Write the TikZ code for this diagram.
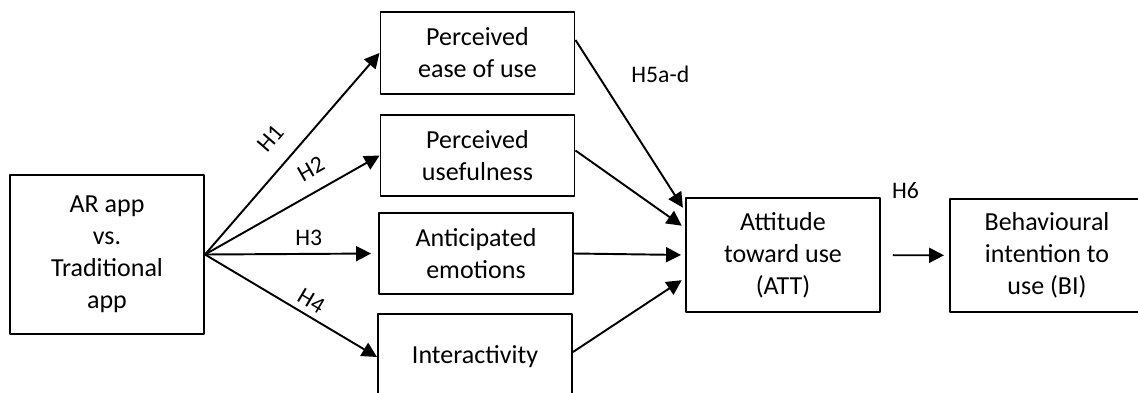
\documentclass[tikz,border=0pt]{standalone}
\usepackage{fontspec}
\setmainfont{Carlito}
\usetikzlibrary{arrows.meta}

\begin{document}
\begin{tikzpicture}[line join=round, >={Triangle[length=0.3cm,width=0.3cm]},
	box/.style={draw, line width=1.1pt, minimum width=3.88cm, inner sep=0pt, align=center, font=\fontsize{14.8}{18.2}\selectfont},
	hyp/.style={inner sep=2pt, font=\fontsize{13.5}{16}\selectfont},
	link/.style={->, line width=1.1pt}]
			\useasboundingbox (0,0) rectangle (22.76,7.84);
			% boxes
			\node[box, minimum height=3.18cm] (AR) at (2.14,2.75) {AR app\\vs.\\Traditional\\app};
			\node[box, minimum height=1.64cm] (ease) at (9.55,6.78) {Perceived\\ease of use};
			\node[box, minimum height=1.62cm] (useful) at (9.55,4.73) {Perceived\\usefulness};
			\node[box, minimum height=1.62cm] (antic) at (9.52,2.77) {Anticipated\\emotions};
			\node[box, minimum height=1.72cm] (inter) at (9.50,0.70) {Interactivity};
			\node[box, minimum height=2.28cm] (ATT) at (15.66,2.74) {Attitude\\toward use\\(ATT)};
			\node[box, minimum height=2.26cm] (BI) at (20.94,2.73) {Behavioural\\intention to\\use (BI)};
			% H1-H4
			\draw[link] (AR.east)--node[hyp, pos=0.49, sloped, above=0.29cm]{H1}(ease.west);
			\draw[link] (AR.east)--node[hyp, pos=0.67, sloped, above=0.2cm]{H2}(useful.west);
			\draw[link, shorten >=0.14cm] (AR.east)--node[hyp, pos=0.6, above=0.08cm]{H3}(antic.west);
			\draw[link] (AR.east)--node[hyp, pos=0.575, sloped, above=0.05cm]{H4}(inter.west);
			% H5a-d
			\draw[link, shorten >=0.08cm] ([yshift=0.26cm]ease.east)--node[hyp, pos=0.2, right=0.59cm]{H5a-d}([yshift=0.88cm]ATT.west);
			\draw[link, shorten >=0.08cm] ([yshift=0.1cm]useful.east)--([yshift=0.54cm]ATT.west);
			\draw[link, shorten >=0.08cm] (antic.east)--(ATT.west);
			\draw[link, shorten >=0.08cm] ([yshift=0.1cm]inter.east)--([yshift=-0.46cm]ATT.west);
			% H6
			\draw[link, shorten <=0.24cm, shorten >=0.1cm] (ATT)--node[hyp, pos=0.36, above=1.04cm]{H6}(BI);
		\end{tikzpicture}
\end{document}
